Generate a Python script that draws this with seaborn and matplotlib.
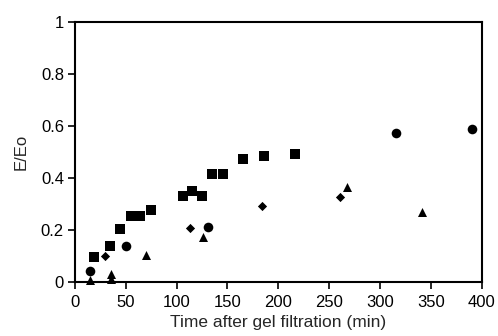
import matplotlib
matplotlib.use("Agg")
import matplotlib.pyplot as plt
import seaborn as sns
import pandas as pd

sq_t = [19, 34, 44.5, 55, 64, 75, 106, 115.5, 125, 135, 145.5, 165, 185.5, 216]
sq_y = [0.094, 0.138, 0.202, 0.254, 0.254, 0.277, 0.331, 0.349, 0.328, 0.416, 0.416, 0.471, 0.482, 0.49]
ci_t = [15, 50.5, 131, 316, 390.5]
ci_y = [0.04, 0.136, 0.212, 0.574, 0.587]
di_t = [29.5, 113.5, 183.5, 260.5]
di_y = [0.097, 0.207, 0.29, 0.327]
tr_t = [15, 35, 35, 70, 125.5, 268, 341.5]
tr_y = [0.006, 0.028, 0.008, 0.103, 0.171, 0.364, 0.269]

xticks = [0, 50, 100, 150, 200, 250, 300, 350, 400]
yticks = [0, 0.2, 0.4, 0.6, 0.8, 1]
ytick_labels = ["0", "0.2", "0.4", "0.6", "0.8", "1"]

df = pd.concat([
    pd.DataFrame({"t": sq_t, "y": sq_y, "s": "sq"}),
    pd.DataFrame({"t": ci_t, "y": ci_y, "s": "ci"}),
    pd.DataFrame({"t": di_t, "y": di_y, "s": "di"}),
    pd.DataFrame({"t": tr_t, "y": tr_y, "s": "tr"}),
])

sns.set_style("ticks")
plt.rcParams["font.family"] = ["Liberation Sans", "DejaVu Sans"]

fig = plt.figure(figsize=(4.98, 3.36), dpi=100)
ax = fig.add_axes([0.1506, 0.162, 0.8164, 0.7725])

styles = {"sq": ("s", 44), "ci": ("o", 48), "di": ("D", 22), "tr": ("^", 42)}
for key, (m, s) in styles.items():
    sub = df[df["s"] == key]
    sns.scatterplot(data=sub, x="t", y="y", marker=m, s=s, color="black",
                    edgecolor="black", linewidth=0, ax=ax, legend=False, zorder=3,
                    clip_on=False)

ax.set_xlim(0, 400)
ax.set_ylim(0, 1)
ax.set_xticks(xticks)
ax.set_yticks(yticks)
ax.set_yticklabels(ytick_labels)
for sp in ax.spines.values():
    sp.set_visible(True)
    sp.set_linewidth(1.5)
    sp.set_color("black")
ax.tick_params(direction="out", length=5, width=1.2, labelsize=12, colors="black", pad=3)
ax.tick_params(axis="x", pad=5)
ax.set_xlabel("Time after gel filtration (min)", fontsize=12.5, labelpad=3)
ax.set_ylabel("E/Eo", fontsize=12, labelpad=9)

fig.savefig("out.png", dpi=100)
